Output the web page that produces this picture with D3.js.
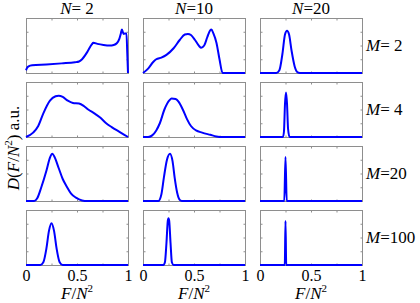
<!DOCTYPE html>
<html>
<head>
<meta charset="utf-8">
<script src="https://cdn.jsdelivr.net/npm/d3@7"></script>
<style>
  body { margin: 0; background: #fff; }
</style>
</head>
<body>
<div id="chart"></div>
<script>
// column / row categories
const nValues = ['2', '10', '20']
const mValues = ['2', '4', '20', '100']
const xTickLabels = [0, 0.5, 1]

// D(F/N^2) in a.u., each as [F/N^2, D]
const m2n2 = [[0, 0.05], [0.01, 0.09], [0.025, 0.12], [0.06, 0.14], [0.2, 0.155], [0.35, 0.175], [0.48, 0.195], [0.52, 0.21], [0.55, 0.25], [0.6, 0.38], [0.645, 0.52], [0.66, 0.55], [0.7, 0.53], [0.76, 0.51], [0.82, 0.5], [0.86, 0.51], [0.89, 0.54], [0.915, 0.62], [0.93, 0.72], [0.94, 0.79], [0.95, 0.74], [0.958, 0.71], [0.97, 0.72], [0.985, 0.72], [0.993, 0.35], [1, 0]]
const m2n10 = [[0, 0], [0.05, 0.08], [0.1, 0.2], [0.13, 0.25], [0.18, 0.28], [0.23, 0.33], [0.3, 0.45], [0.36, 0.6], [0.41, 0.7], [0.44, 0.71], [0.47, 0.69], [0.51, 0.6], [0.55, 0.49], [0.57, 0.46], [0.6, 0.5], [0.63, 0.65], [0.66, 0.78], [0.67, 0.79], [0.69, 0.72], [0.72, 0.55], [0.75, 0.25], [0.78, 0], [1, 0]]
const m2n20 = [[0, 0], [0.16, 0], [0.19, 0.05], [0.22, 0.35], [0.245, 0.7], [0.265, 0.77], [0.285, 0.7], [0.31, 0.4], [0.34, 0.12], [0.37, 0.01], [0.39, 0], [1, 0]]
const m4n2 = [[0, 0], [0.07, 0.08], [0.12, 0.2], [0.17, 0.43], [0.235, 0.66], [0.29, 0.74], [0.32, 0.75], [0.36, 0.73], [0.41, 0.66], [0.46, 0.62], [0.52, 0.61], [0.57, 0.56], [0.61, 0.5], [0.67, 0.43], [0.73, 0.35], [0.78, 0.26], [0.84, 0.18], [0.92, 0.09], [1, 0]]
const m4n10 = [[0, 0], [0.05, 0], [0.09, 0.03], [0.13, 0.12], [0.165, 0.25], [0.21, 0.5], [0.26, 0.67], [0.28, 0.7], [0.32, 0.69], [0.35, 0.64], [0.39, 0.5], [0.43, 0.33], [0.47, 0.2], [0.52, 0.12], [0.58, 0.08], [0.66, 0.04], [0.72, 0.01], [0.78, 0], [1, 0]]
const m4n20 = [[0, 0], [0.225, 0], [0.235, 0.1], [0.245, 0.6], [0.255, 0.81], [0.265, 0.6], [0.275, 0.15], [0.29, 0], [1, 0]]
const m20n2 = [[0, 0], [0.08, 0], [0.11, 0.05], [0.15, 0.25], [0.2, 0.55], [0.235, 0.79], [0.258, 0.86], [0.28, 0.8], [0.32, 0.6], [0.36, 0.4], [0.4, 0.26], [0.44, 0.14], [0.49, 0.06], [0.55, 0.01], [0.6, 0], [1, 0]]
const m20n10 = [[0, 0], [0.15, 0], [0.18, 0.12], [0.205, 0.43], [0.235, 0.75], [0.265, 0.86], [0.29, 0.72], [0.31, 0.43], [0.335, 0.15], [0.36, 0.02], [0.38, 0], [1, 0]]
const m20n20 = [[0, 0], [0.238, 0], [0.25, 0.8], [0.262, 0], [1, 0]]
const m100n2 = [[0, 0], [0.14, 0], [0.17, 0.05], [0.2, 0.3], [0.225, 0.62], [0.25, 0.76], [0.275, 0.62], [0.3, 0.3], [0.33, 0.05], [0.36, 0], [1, 0]]
const m100n10 = [[0, 0], [0.2, 0], [0.215, 0.05], [0.23, 0.4], [0.243, 0.8], [0.25, 0.85], [0.257, 0.8], [0.27, 0.4], [0.283, 0.05], [0.3, 0], [1, 0]]
const m100n20 = [[0, 0], [0.243, 0], [0.25, 0.8], [0.257, 0], [1, 0]]

const panels = [
  [m2n2, m2n10, m2n20],
  [m4n2, m4n10, m4n20],
  [m20n2, m20n10, m20n20],
  [m100n2, m100n10, m100n20]
]

const width = 420
const height = 303
const panelW = 102
const panelH = 55
const marginLeft = 26
const marginTop = 18
const colStep = 117
const rowStep = 64
const boxColor = '#8e8e8e'
const fontSize = 17
const serif = "'Liberation Serif', 'Times New Roman', serif"

const svg = d3.select('#chart')
  .append('svg')
  .attr('width', width)
  .attr('height', height)
  .attr('font-family', serif)

const x = d3.scaleLinear().domain([0, 1]).range([0, panelW])
const y = d3.scaleLinear().domain([0, 1]).range([panelH, 0])

const line = d3.line()
  .x(d => x(d[0]))
  .y(d => y(d[1]))
  .curve(d3.curveMonotoneX)

const tickVals = [0.25, 0.5, 0.75]

panels.forEach((row, ri) => {
  row.forEach((data, ci) => {
    const g = svg.append('g')
      .attr('transform', 'translate(' + (marginLeft + ci * colStep) + ',' + (marginTop + ri * rowStep) + ')')

    g.append('rect')
      .attr('x', 0.5)
      .attr('y', 0.5)
      .attr('width', panelW)
      .attr('height', panelH)
      .attr('fill', 'none')
      .attr('stroke', boxColor)
      .attr('stroke-width', 1)

    // inward ticks on all four sides
    tickVals.forEach(t => {
      g.append('line').attr('x1', x(t) + 0.5).attr('x2', x(t) + 0.5)
        .attr('y1', panelH + 0.5).attr('y2', panelH - 1.5).attr('stroke', boxColor)
      g.append('line').attr('x1', x(t) + 0.5).attr('x2', x(t) + 0.5)
        .attr('y1', 0.5).attr('y2', 2.5).attr('stroke', boxColor)
      g.append('line').attr('y1', y(t) + 0.5).attr('y2', y(t) + 0.5)
        .attr('x1', 0.5).attr('x2', 2.5).attr('stroke', boxColor)
      g.append('line').attr('y1', y(t) + 0.5).attr('y2', y(t) + 0.5)
        .attr('x1', panelW + 0.5).attr('x2', panelW - 1.5).attr('stroke', boxColor)
    })

    g.append('path')
      .datum(data)
      .attr('d', line)
      .attr('fill', 'none')
      .attr('stroke', '#0000ff')
      .attr('stroke-width', 2)
      .attr('stroke-linejoin', 'round')

    if (ri === panels.length - 1) {
      g.append('g')
        .attr('transform', 'translate(0,' + panelH + ')')
        .call(d3.axisBottom(x).tickValues(xTickLabels).tickSize(0).tickPadding(5).tickFormat(d3.format('')))
        .call(a => a.attr('font-family', serif).attr('font-size', fontSize - 1))
        .call(a => a.select('.domain').remove())
        .call(a => a.selectAll('text')
          .attr('font-family', serif)
          .attr('font-size', fontSize - 1)
          .attr('fill', '#000'))

      const xl = g.append('text')
        .attr('x', panelW / 2)
        .attr('y', panelH + 34)
        .attr('text-anchor', 'middle')
        .attr('font-family', serif)
        .attr('font-size', fontSize)
      xl.append('tspan').attr('font-style', 'italic').text('F')
      xl.append('tspan').text('/')
      xl.append('tspan').attr('font-style', 'italic').text('N')
      xl.append('tspan').attr('font-size', 11).attr('dy', -7).text('2')
    }
  })
})

// column titles
nValues.forEach((n, ci) => {
  const t = svg.append('text')
    .attr('x', marginLeft + ci * colStep + panelW / 2)
    .attr('y', 13.5)
    .attr('text-anchor', 'middle')
    .attr('font-family', serif)
    .attr('font-size', fontSize)
  t.append('tspan').attr('font-style', 'italic').text('N')
  t.append('tspan').text(n.length === 1 ? '= ' + n : '=' + n)
})

// row labels
mValues.forEach((m, ri) => {
  const t = svg.append('text')
    .attr('x', marginLeft + 2 * colStep + panelW + 4)
    .attr('y', marginTop + ri * rowStep + panelH / 2 + 5.5)
    .attr('font-family', serif)
    .attr('font-size', fontSize)
  t.append('tspan').attr('font-style', 'italic').text('M')
  t.append('tspan').text(m.length === 1 ? '= ' + m : '=' + m)
})

// y label
const yl = svg.append('text')
  .attr('transform', 'translate(19,148) rotate(-90)')
  .attr('text-anchor', 'middle')
  .attr('font-family', serif)
  .attr('font-size', fontSize)
yl.append('tspan').attr('font-style', 'italic').text('D')
yl.append('tspan').text('(')
yl.append('tspan').attr('font-style', 'italic').text('F')
yl.append('tspan').text('/')
yl.append('tspan').attr('font-style', 'italic').text('N')
yl.append('tspan').attr('font-size', 11).attr('dy', -7).text('2')
yl.append('tspan').attr('dy', 7).text(') a.u.')
</script>
</body>
</html>
